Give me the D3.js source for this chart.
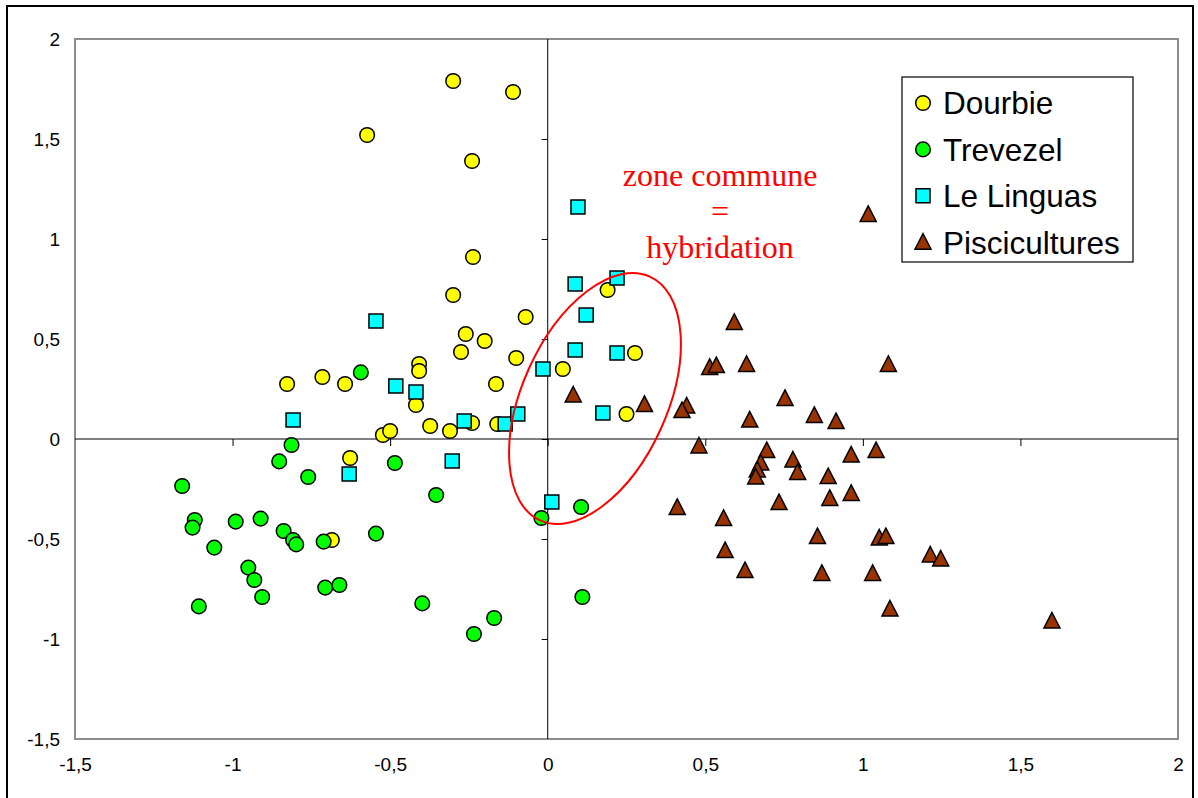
<!DOCTYPE html>
<html><head><meta charset="utf-8">
<script src="https://cdn.jsdelivr.net/npm/d3@7"></script>
<style>body{margin:0;background:#fff}svg{display:block}</style>
</head><body><svg id="c" width="1198" height="798"></svg>
<script>
const xTicks=[-1.5,-1,-0.5,0,0.5,1,1.5,2];
const yTicks=[-1.5,-1,-0.5,0,0.5,1,1.5,2];
const seriesNames=["Dourbie","Trevezel","Le Linguas","Piscicultures"];
const dourbie=[[-0.30,1.79],[-0.11,1.735],[-0.573,1.52],[-0.24,1.39],[-0.237,0.91],[-0.30,0.72],[-0.26,0.525],[-0.20,0.49],[-0.275,0.435],[-0.07,0.61],[-0.10,0.405],[-0.164,0.275],[-0.408,0.375],[-0.408,0.34],[-0.418,0.17],[-0.827,0.275],[-0.715,0.31],[-0.643,0.275],[-0.373,0.065],[-0.31,0.04],[-0.24,0.08],[-0.16,0.075],[-0.523,0.02],[-0.50,0.04],[-0.627,-0.095],[-0.685,-0.505],[0.048,0.35],[0.19,0.745],[0.277,0.43],[0.25,0.125]];
const trevezel=[[-0.593,0.333],[-0.813,-0.03],[-0.852,-0.112],[-0.76,-0.19],[-0.485,-0.12],[-1.16,-0.235],[-0.354,-0.28],[-1.12,-0.405],[-1.127,-0.443],[-0.99,-0.413],[-0.911,-0.398],[-1.058,-0.543],[-0.838,-0.46],[-0.808,-0.505],[-0.798,-0.527],[-0.711,-0.513],[-0.545,-0.473],[-0.95,-0.643],[-0.931,-0.705],[-0.906,-0.79],[-1.107,-0.837],[-0.706,-0.743],[-0.661,-0.73],[-0.398,-0.822],[-0.234,-0.975],[-0.17,-0.895],[-0.02,-0.395],[0.106,-0.34],[0.11,-0.79]];
const linguas=[[0.096,1.16],[0.087,0.775],[0.22,0.805],[0.122,0.62],[0.087,0.445],[0.22,0.43],[-0.015,0.35],[-0.545,0.59],[-0.482,0.265],[-0.418,0.235],[-0.808,0.095],[-0.265,0.09],[-0.135,0.075],[-0.095,0.125],[-0.303,-0.11],[-0.63,-0.175],[0.013,-0.315],[0.175,0.13]];
const piscicultures=[[0.592,0.583],[0.514,0.358],[0.535,0.367],[0.631,0.373],[1.081,0.373],[0.307,0.173],[0.441,0.165],[0.426,0.142],[0.753,0.203],[0.641,0.095],[0.846,0.118],[0.915,0.087],[0.48,-0.035],[0.695,-0.058],[0.676,-0.12],[0.665,-0.155],[0.66,-0.19],[0.778,-0.105],[0.793,-0.167],[0.89,-0.188],[0.963,-0.08],[1.042,-0.058],[0.895,-0.297],[0.963,-0.272],[0.734,-0.318],[0.411,-0.342],[0.558,-0.397],[0.563,-0.558],[0.626,-0.658],[0.856,-0.488],[1.052,-0.495],[1.073,-0.488],[0.87,-0.672],[1.031,-0.672],[1.214,-0.58],[1.247,-0.60],[1.086,-0.85],[1.60,-0.91],[1.017,1.123],[0.081,0.22]];
const annotationLines=["zone commune","=","hybridation"];

const svg=d3.select("#c");
const L=75,R=1178,T=39,B=739;
const x=d3.scaleLinear().domain([-1.5,2]).range([L,R]);
const y=d3.scaleLinear().domain([-1.5,2]).range([B,T]);
const loc=d3.formatLocale({decimal:",",thousands:" ",grouping:[3],currency:["","€"],minus:"-"});
const fmt=loc.format("~g");

// outer frame
svg.append("rect").attr("x",7).attr("y",6).attr("width",1186).attr("height",800)
  .attr("fill","#fff").attr("stroke","#000").attr("stroke-width",2);
// plot area
svg.append("rect").attr("x",L).attr("y",T).attr("width",R-L).attr("height",B-T)
  .attr("fill","#fff").attr("stroke","#8c8c8c").attr("stroke-width",2);

// labels
const font="Liberation Sans, Arial, sans-serif";
const yl=svg.append("g").attr("transform",`translate(${L-15},0)`)
  .call(d3.axisLeft(y).tickValues(yTicks).tickSize(0).tickPadding(0).tickFormat(fmt));
yl.select(".domain").remove();
yl.selectAll("text").attr("font-size",19).attr("font-family",font).attr("fill","#000");
const xl=svg.append("g").attr("transform",`translate(0,${B+18})`)
  .call(d3.axisBottom(x).tickValues(xTicks).tickSize(0).tickPadding(0).tickFormat(fmt));
xl.select(".domain").remove();
xl.selectAll("text").attr("font-size",19).attr("font-family",font).attr("fill","#000");

// zero axes with ticks
const xa=svg.append("g").attr("transform",`translate(0,${y(0)})`)
  .call(d3.axisBottom(x).tickValues(xTicks.filter(d=>d>-1.5&&d<2)).tickSize(7).tickFormat(""));
xa.select(".domain").attr("d",`M${L},0H${R}`).attr("stroke","#000");
xa.selectAll("line").attr("stroke","#000");
const ya=svg.append("g").attr("transform",`translate(${x(0)},0)`)
  .call(d3.axisLeft(y).tickValues(yTicks.filter(d=>d>-1.5&&d<2)).tickSize(6).tickFormat(""));
ya.select(".domain").attr("d",`M0,${T}V${B}`).attr("stroke","#000");
ya.selectAll("line").attr("stroke","#000");

// markers
const styles=[
  {data:dourbie,fill:"#ffff00",type:d3.symbolCircle,size:Math.PI*7.3*7.3},
  {data:trevezel,fill:"#00ff00",type:d3.symbolCircle,size:Math.PI*7.3*7.3},
  {data:linguas,fill:"#00ffff",type:d3.symbolSquare,size:14*14},
  {data:piscicultures,fill:"#993300",type:d3.symbolTriangle,size:0}
];
function sym(s){
  if(s.type===d3.symbolTriangle){
    return "M0,-8.5L8,7L-8,7Z";
  }
  return d3.symbol().type(s.type).size(s.size)();
}
styles.forEach(s=>{
  svg.append("g").selectAll("path").data(s.data).join("path")
    .attr("d",sym(s)).attr("transform",d=>`translate(${x(d[0])},${y(d[1])})`)
    .attr("fill",s.fill).attr("stroke","#000").attr("stroke-width",1.5);
});

// ellipse annotation
const ec=[0.150,0.2025];
svg.append("ellipse").attr("cx",0).attr("cy",0).attr("rx",133.7).attr("ry",72.5)
  .attr("transform",`translate(${x(ec[0])},${y(ec[1])}) rotate(-65.8)`)
  .attr("fill","none").attr("stroke","#ff0000").attr("stroke-width",2);
const at=svg.append("text").attr("font-family","Liberation Serif, Times New Roman, serif")
  .attr("font-size",32).attr("fill","#ff0000").attr("text-anchor","middle");
annotationLines.forEach((t,i)=>{
  at.append("tspan").attr("x",x(0.547)).attr("y",y(1.265)+i*36).text(t);
});

// legend
const lg=svg.append("g");
lg.append("rect").attr("x",902).attr("y",77).attr("width",231).attr("height",185)
  .attr("fill","#fff").attr("stroke","#000").attr("stroke-width",1.2);
seriesNames.forEach((n,i)=>{
  const cy=103+i*46.4;
  lg.append("path").attr("d",sym(styles[i])).attr("transform",`translate(923,${cy})`)
    .attr("fill",styles[i].fill).attr("stroke","#000").attr("stroke-width",1.5);
  lg.append("text").attr("x",943).attr("y",cy).attr("dy","0.36em")
    .attr("font-family",font).attr("font-size",31.5).attr("fill","#000").text(n);
});
</script></body></html>
